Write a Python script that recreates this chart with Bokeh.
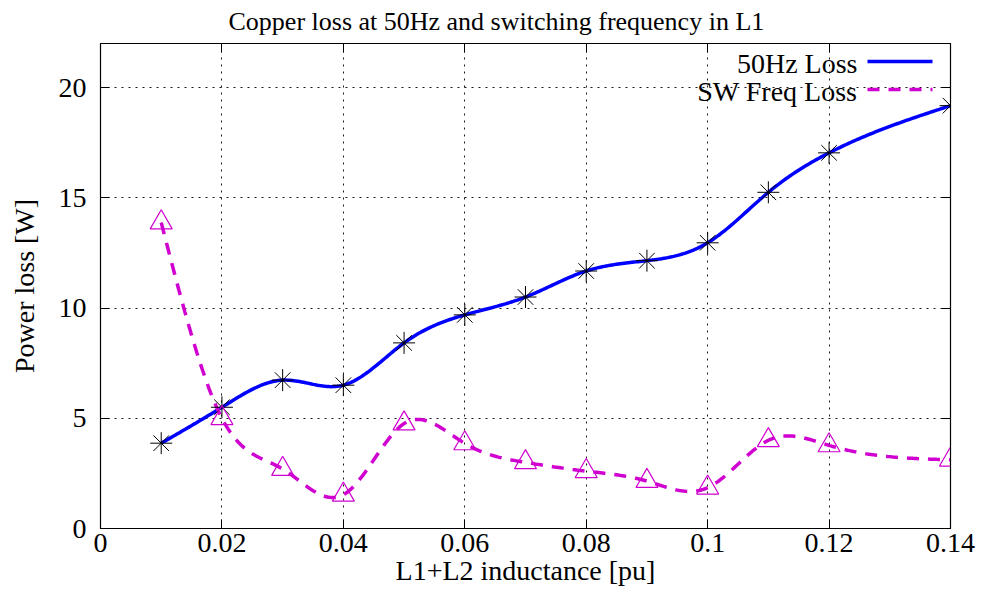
import numpy as np
from bokeh.plotting import figure
from bokeh.models import Range1d, FixedTicker, LinearAxis, Label, Arrow, ColumnDataSource
from bokeh.embed import file_html
from bokeh.resources import INLINE

# ---- data ----
inductance = [0.01, 0.02, 0.03, 0.04, 0.05, 0.06, 0.07, 0.08, 0.09, 0.10, 0.11, 0.12, 0.14]
loss_50hz = [3.87, 5.50, 6.73, 6.50, 8.42, 9.69, 10.50, 11.68, 12.15, 12.96, 15.25, 17.04, 19.18]
loss_sw = [13.88, 5.00, 2.70, 1.53, 4.76, 3.86, 3.00, 2.60, 2.15, 1.85, 4.00, 3.77, 3.12]

x_ticks = [0, 0.02, 0.04, 0.06, 0.08, 0.10, 0.12, 0.14]
x_tick_labels = ["0", "0.02", "0.04", "0.06", "0.08", "0.1", "0.12", "0.14"]
y_ticks = [0, 5, 10, 15, 20]
y_tick_labels = ["0", "5", "10", "15", "20"]

title_text = "Copper loss at 50Hz and switching frequency in L1"
x_label = "L1+L2 inductance [pu]"
y_label = "Power loss [W]"
series_names = ["50Hz Loss", "SW Freq Loss"]

FONT = "Liberation Serif"
TXT = "28px"


def natural_cspline(x, y, n=400):
    """Natural cubic spline (like gnuplot 'smooth csplines') used to draw the curve."""
    x = np.asarray(x, float)
    y = np.asarray(y, float)
    m = len(x)
    h = np.diff(x)
    A = np.zeros((m, m))
    b = np.zeros(m)
    A[0, 0] = 1.0
    A[-1, -1] = 1.0
    for i in range(1, m - 1):
        A[i, i - 1] = h[i - 1]
        A[i, i] = 2 * (h[i - 1] + h[i])
        A[i, i + 1] = h[i]
        b[i] = 6 * ((y[i + 1] - y[i]) / h[i] - (y[i] - y[i - 1]) / h[i - 1])
    M = np.linalg.solve(A, b)
    xs = np.linspace(x[0], x[-1], n)
    idx = np.clip(np.searchsorted(x, xs) - 1, 0, m - 2)
    x0, x1 = x[idx], x[idx + 1]
    hh = x1 - x0
    t0 = x1 - xs
    t1 = xs - x0
    ys = (M[idx] * t0 ** 3 / (6 * hh) + M[idx + 1] * t1 ** 3 / (6 * hh)
          + (y[idx] / hh - M[idx] * hh / 6) * t0
          + (y[idx + 1] / hh - M[idx + 1] * hh / 6) * t1)
    return xs, ys


p = figure(width=979, height=590, output_backend="svg", toolbar_location=None,
           x_range=Range1d(0, 0.14), y_range=Range1d(0, 22),
           min_border_left=100, min_border_right=29, min_border_top=0, min_border_bottom=62)

p.background_fill_color = "white"
p.border_fill_color = "white"
p.outline_line_color = "black"
p.outline_line_width = 1.2

# title (left-anchored with an offset so that it sits centred on the picture)
p.title.text = title_text
p.title.text_font = FONT
p.title.text_font_size = "26px"
p.title.text_font_style = "normal"
p.title.text_color = "black"
p.title.align = "left"
p.title.offset = 128
p.title.vertical_align = "top"
p.title.standoff = 12

# axes
for ax in (p.xaxis[0], p.yaxis[0]):
    ax.axis_line_color = "black"
    ax.major_tick_in = 9
    ax.major_tick_out = 0
    ax.minor_tick_in = 0
    ax.minor_tick_out = 0
    ax.major_label_text_font = FONT
    ax.major_label_text_font_size = TXT
    ax.major_label_text_color = "black"
    ax.axis_label_text_font = FONT
    ax.axis_label_text_font_size = TXT
    ax.axis_label_text_font_style = "normal"
    ax.axis_label_text_color = "black"

p.xaxis[0].ticker = FixedTicker(ticks=x_ticks)
p.xaxis[0].major_label_overrides = {t: l for t, l in zip(x_ticks, x_tick_labels)}
p.xaxis[0].axis_label = x_label
p.xaxis[0].major_label_standoff = 5
p.xaxis[0].axis_label_standoff = 0

p.yaxis[0].ticker = FixedTicker(ticks=y_ticks)
p.yaxis[0].major_label_overrides = {t: l for t, l in zip(y_ticks, y_tick_labels)}
p.yaxis[0].axis_label = y_label
p.yaxis[0].major_label_standoff = 14
p.yaxis[0].axis_label_standoff = 16

# mirrored ticks (right / top)
right_ax = LinearAxis(ticker=FixedTicker(ticks=y_ticks), major_tick_in=9, major_tick_out=0,
                      minor_tick_in=0, minor_tick_out=0, major_label_text_font_size="0px",
                      major_label_standoff=0, axis_line_color="black")
top_ax = LinearAxis(ticker=FixedTicker(ticks=x_ticks), major_tick_in=9, major_tick_out=0,
                    minor_tick_in=0, minor_tick_out=0, major_label_text_font_size="0px",
                    major_label_standoff=0, axis_line_color="black")
p.add_layout(right_ax, "right")
p.add_layout(top_ax, "above")

# grid
p.xgrid.ticker = FixedTicker(ticks=x_ticks)
p.ygrid.ticker = FixedTicker(ticks=y_ticks)
for g in (p.xgrid[0], p.ygrid[0]):
    g.grid_line_color = "black"
    g.grid_line_dash = "2 5"
    g.grid_line_width = 1
    g.grid_line_alpha = 0.9

# curves
xs50, ys50 = natural_cspline(inductance, loss_50hz)
xssw, yssw = natural_cspline(inductance, loss_sw)

blue = "#0000ff"
magenta = "#d000d0"

p.line(xs50, ys50, line_color=blue, line_width=3.5)
p.line(xssw, yssw, line_color=magenta, line_width=3.5, line_dash="12 9")

src = ColumnDataSource(dict(x=inductance, y50=loss_50hz, ysw=loss_sw))
p.scatter("x", "y50", source=src, marker="asterisk", size=22, line_color="black", line_width=1)
p.scatter("x", "ysw", source=src, marker="triangle", size=22, fill_color=None,
          line_color=magenta, line_width=1.2)

# gnuplot-style key: text right-aligned, sample line to its right
key_text_right = 757
key_line_x0, key_line_x1 = 767, 832
key_text_y = [465, 437]
key_line_y = [467, 439]
key_styles = [dict(line_color=blue, line_width=3.5),
              dict(line_color=magenta, line_width=3.5, line_dash="12 9")]
for name, ty, ly, st in zip(series_names, key_text_y, key_line_y, key_styles):
    p.add_layout(Label(x=key_text_right, y=ty, x_units="screen", y_units="screen", text=name,
                       text_font=FONT, text_font_size=TXT, text_align="right",
                       text_baseline="middle", text_color="black"))
    p.add_layout(Arrow(end=None, x_start=key_line_x0, y_start=ly, x_end=key_line_x1, y_end=ly,
                       start_units="screen", end_units="screen", **st))

open("out.html", "w").write(file_html(p, INLINE))
